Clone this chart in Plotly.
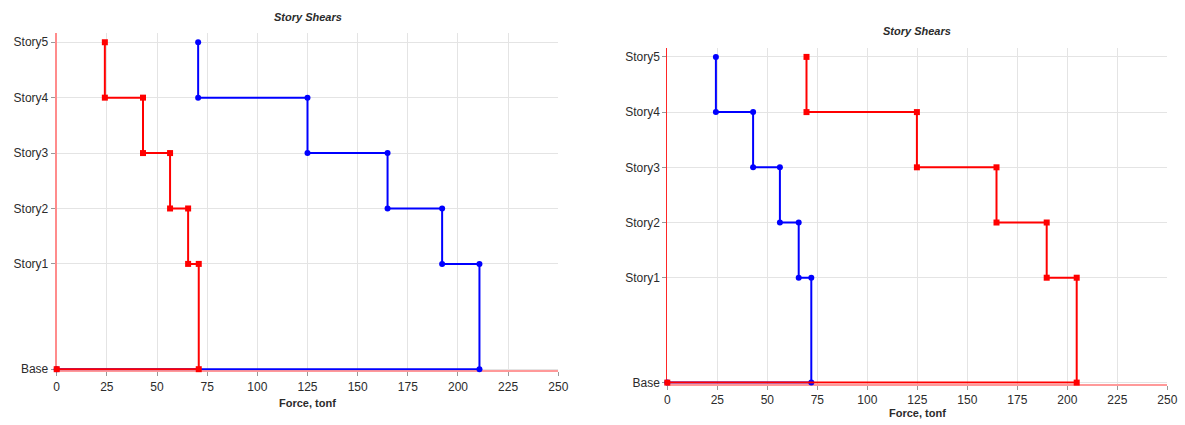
import plotly.graph_objects as go

# ---- data ----
levels = ["Base", "Story1", "Story2", "Story3", "Story4", "Story5"]
elevations = [0.0, 5.7, 8.7, 11.7, 14.7, 17.7]
x_ticks = [0, 25, 50, 75, 100, 125, 150, 175, 200, 225, 250]

# story shears, Story1 .. Story5 (tonf)
left_red = [70.8, 65.5, 56.5, 43.0, 24.0]
left_blue = [210.7, 192.1, 164.9, 125.0, 70.5]
right_blue = [72.0, 65.7, 56.3, 42.9, 24.3]
right_red = [204.7, 189.7, 164.6, 124.8, 69.6]


def step_path(shears):
    """Stepped story-shear profile, from the top story down to the base."""
    xs, ys = [], []
    n = len(shears)
    for i in range(n - 1, -1, -1):
        xs += [shears[i], shears[i]]
        ys += [elevations[i + 1], elevations[i]]
    xs.append(0)
    ys.append(elevations[0])
    return xs, ys


FONT = "Liberation Sans, Arial, sans-serif"
TXT = "#2b2b2b"

fig = go.Figure()


def add_series(shears, color, symbol, xa, ya):
    xs, ys = step_path(shears)
    fig.add_trace(go.Scatter(
        x=xs, y=ys, mode="lines+markers", xaxis=xa, yaxis=ya,
        line=dict(color=color, width=2),
        marker=dict(color=color, size=6, symbol=symbol),
        showlegend=False, hoverinfo="x+y", cliponaxis=False))


add_series(left_blue, "#0000ff", "circle", "x", "y")
add_series(left_red, "#ff0000", "square", "x", "y")
add_series(right_blue, "#0000ff", "circle", "x2", "y2")
add_series(right_red, "#ff0000", "square", "x2", "y2")

W, H = 1185, 425


def xaxis_cfg(x0, x1):
    return dict(
        domain=[x0 / W, x1 / W], range=[0, 250], tickvals=x_ticks,
        showgrid=True, gridcolor="#e4e4e4", gridwidth=1, zeroline=False,
        showline=True, linecolor="rgba(255,0,0,0.4)", linewidth=2,
        layer="below traces", automargin=False,
        ticks="outside", ticklen=4, tickcolor="#999999",
        tickfont=dict(family=FONT, size=12, color=TXT), fixedrange=True)


def yaxis_cfg(top, bottom, anchor, linecolor, linewidth):
    return dict(
        domain=[(H - bottom) / H, (H - top) / H], range=[-0.06, 18.2],
        tickvals=elevations, ticktext=levels, anchor=anchor,
        showgrid=True, gridcolor="#e4e4e4", gridwidth=1, zeroline=False,
        showline=True, linecolor=linecolor, linewidth=linewidth,
        layer="below traces", automargin=False,
        ticks="outside", ticklen=4, tickcolor="#999999",
        tickfont=dict(family=FONT, size=12, color=TXT), fixedrange=True)


fig.update_layout(
    width=W, height=H, autosize=False,
    margin=dict(l=0, r=0, t=0, b=0, pad=0, autoexpand=False),
    paper_bgcolor="white", plot_bgcolor="white",
    xaxis=dict(xaxis_cfg(56.7, 558.3), anchor="y"),
    yaxis=yaxis_cfg(33, 370.3, "x", "rgba(255,0,0,0.45)", 2),
    xaxis2=dict(xaxis_cfg(667.3, 1167.3), anchor="y2"),
    yaxis2=yaxis_cfg(47.7, 383.7, "x2", "rgba(255,0,0,0.85)", 1),
)

annots = [
    ("<b><i>Story Shears</i></b>", 307.5, 17),
    ("<b>Force, tonf</b>", 307.5, 403),
    ("<b><i>Story Shears</i></b>", 917, 31),
    ("<b>Force, tonf</b>", 917, 413),
]
for text, px, py in annots:
    fig.add_annotation(
        text=text, x=px / W, y=(H - py) / H, xref="paper", yref="paper",
        xanchor="center", yanchor="middle", showarrow=False,
        font=dict(family=FONT, size=11, color=TXT))

fig.write_html(
    "out.html",
    config={"displayModeBar": False, "responsive": False},
    post_script="document.body.style.margin='0';document.body.style.padding='0';"
                "document.body.style.overflow='hidden';",
)
